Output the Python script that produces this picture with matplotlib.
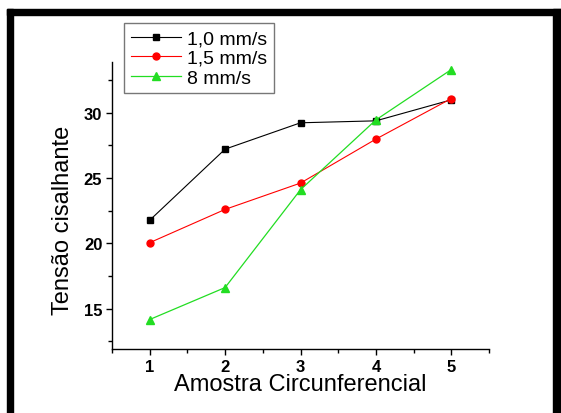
import matplotlib
matplotlib.use("Agg")
import matplotlib.pyplot as plt
from matplotlib.patches import Rectangle
from matplotlib.ticker import MultipleLocator

plt.rcParams['font.family'] = ['Liberation Sans', 'DejaVu Sans']

amostras = [1, 2, 3, 4, 5]
v_10 = [21.77, 27.22, 29.24, 29.39, 31.0]
v_15 = [20.05, 22.6, 24.62, 27.99, 31.1]
v_8 = [14.16, 16.61, 24.11, 29.46, 33.32]

fig = plt.figure(figsize=(5.61, 4.14), dpi=100)
ax = fig.add_axes([112/561, 1 - 350/414, (489-112)/561, (350-63)/414])

ax.plot(amostras, v_10, color='black', lw=0.8, marker='s', ms=4.5, label='1,0 mm/s')
ax.plot(amostras, v_15, color='red', lw=0.8, marker='o', ms=5, label='1,5 mm/s')
ax.plot(amostras, v_8, color='#22dd22', lw=0.9, marker='^', ms=5.5, label='8 mm/s')

ax.set_xlim(0.5, 5.5)
ax.set_ylim(11.9, 33.9)
ax.xaxis.set_major_locator(MultipleLocator(1))
ax.xaxis.set_minor_locator(MultipleLocator(0.5))
ax.yaxis.set_major_locator(MultipleLocator(5))
ax.yaxis.set_minor_locator(MultipleLocator(2.5))

for s in ['top', 'right']:
    ax.spines[s].set_visible(False)
for s in ['left', 'bottom']:
    ax.spines[s].set_linewidth(1.0)

ax.tick_params(which='major', direction='out', length=4, width=1, pad=3, labelsize=12)
ax.tick_params(which='minor', direction='out', length=3, width=1)
for lab in ax.get_xticklabels() + ax.get_yticklabels():
    lab.set_fontweight('bold')

ax.set_xlabel('Amostra Circunferencial', fontsize=17)
ax.set_ylabel('Tensão cisalhante', fontsize=17)
ax.xaxis.set_label_coords(0.5, -0.085)
ax.yaxis.set_label_coords(-0.1, 0.45)

leg = ax.legend(loc='upper left', bbox_to_anchor=(124/561, 1 - 24/414),
                bbox_transform=fig.transFigure, fontsize=14, frameon=True,
                fancybox=False, handlelength=2.6, handletextpad=0.3,
                labelspacing=0.1, borderpad=0.35, borderaxespad=0, numpoints=1)
leg.get_frame().set_edgecolor('#555555')
leg.get_frame().set_linewidth(1.0)

# black frame around the picture (left, top, right)
fig.patches.append(Rectangle((7/561, 0), 6/561, 1 - 10/414, transform=fig.transFigure,
                             color='black', zorder=10))
fig.patches.append(Rectangle((7/561, 1 - 16/414), 1 - 7/561, 6/414, transform=fig.transFigure,
                             color='black', zorder=10))
fig.patches.append(Rectangle((553/561, 0), 8/561, 1 - 10/414, transform=fig.transFigure,
                             color='black', zorder=10))

fig.savefig('out.png', dpi=100)
